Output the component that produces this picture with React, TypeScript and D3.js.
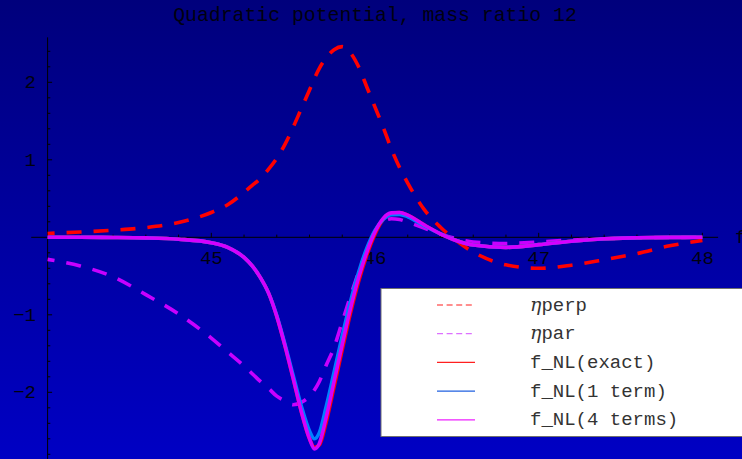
import React from "react";
import { scaleLinear, line, curveMonotoneX, range } from "d3";

// sample positions along the horizontal axis
const xs = [
  44.0, 44.2, 44.4, 44.6, 44.8, 45.0, 45.1, 45.2, 45.25, 45.3, 45.35, 45.4, 45.45, 45.5,
  45.55, 45.6, 45.63, 45.66, 45.7, 45.75, 45.8, 45.85, 45.9, 45.95, 46.0, 46.05, 46.1,
  46.15, 46.2, 46.3, 46.4, 46.5, 46.6, 46.8, 47.0, 47.2, 47.4, 47.6, 47.8, 48.0,
];

const etaPerp = [
  0.05, 0.068, 0.092, 0.125, 0.19, 0.32, 0.42, 0.58, 0.67, 0.76, 0.88, 1.02, 1.2, 1.42,
  1.66, 1.9, 2.05, 2.18, 2.31, 2.42, 2.46, 2.38, 2.2, 1.94, 1.68, 1.42, 1.14,
  0.9, 0.7, 0.36, 0.13, -0.05, -0.19, -0.355, -0.4, -0.36, -0.29, -0.21, -0.11, -0.04,
];

const etaPar = [
  -0.285, -0.37, -0.51, -0.74, -0.99, -1.3, -1.48, -1.66, -1.76, -1.86, -1.95, -2.05, -2.11, -2.16,
  -2.13, -2.05, -1.97, -1.86, -1.66, -1.42, -1.09, -0.76, -0.45, -0.17, 0.08, 0.2, 0.24,
  0.23, 0.195, 0.12, 0.04, -0.02, -0.06, -0.08, -0.06, -0.035, -0.02, -0.008, -0.002, 0,
];

const fExact = [
  0, 0, -0.002, -0.008, -0.025, -0.07, -0.13, -0.26, -0.37, -0.52, -0.72, -1.02, -1.4, -1.82,
  -2.25, -2.6, -2.71, -2.68, -2.4, -1.93, -1.45, -0.98, -0.57, -0.23, 0.04, 0.23, 0.31,
  0.32, 0.285, 0.16, 0.045, -0.045, -0.1, -0.13, -0.095, -0.05, -0.018, -0.006, -0.001, 0,
];

const fOneTerm = [
  0, 0, -0.002, -0.008, -0.025, -0.07, -0.13, -0.26, -0.37, -0.52, -0.72, -1.01, -1.38, -1.78,
  -2.18, -2.5, -2.6, -2.52, -2.2, -1.74, -1.27, -0.83, -0.45, -0.14, 0.09, 0.23, 0.29,
  0.295, 0.265, 0.15, 0.045, -0.045, -0.1, -0.13, -0.095, -0.05, -0.018, -0.006, -0.001, 0,
];

const fFourTerms = [
  0, 0, -0.002, -0.008, -0.025, -0.07, -0.13, -0.26, -0.37, -0.52, -0.72, -1.02, -1.4, -1.82,
  -2.25, -2.6, -2.73, -2.66, -2.34, -1.86, -1.38, -0.92, -0.52, -0.19, 0.07, 0.245, 0.315,
  0.32, 0.285, 0.16, 0.045, -0.045, -0.1, -0.13, -0.095, -0.05, -0.018, -0.006, -0.001, 0,
];

const xTickLabels = [45, 46, 47, 48];
const yTickLabels = [-2, -1, 1, 2];
const legendLabels = ["perp", "par", "f_NL(exact)", "f_NL(1 term)", "f_NL(4 terms)"];

const width = 742;
const height = 459;
const mono = "'Liberation Mono', 'DejaVu Sans Mono', monospace";

const series = [
  { values: etaPerp, color: "#ff0000", dash: "15,12", legendColor: "#ff6a6a", eta: true },
  { values: etaPar, color: "#c800ff", dash: "15,12", legendColor: "#dd70ff", eta: true },
  { values: fExact, color: "#ff0000", dash: null, legendColor: "#ff2020", eta: false },
  { values: fOneTerm, color: "#0080ff", dash: null, legendColor: "#2060e0", eta: false },
  { values: fFourTerms, color: "#d400ff", dash: null, legendColor: "#ee20ff", eta: false },
];

export default function App() {
  const x = scaleLinear().domain([44, 48]).range([47.6, 702.4]);
  const y = scaleLinear().domain([-2, 2]).range([392.3, 82.3]);

  const path = line<number>()
    .x((_, i) => x(xs[i]))
    .y((d) => y(d))
    .curve(curveMonotoneX);

  const xMinor = range(44.2, 48.01, 0.2);
  const yMinor = range(-2.8, 2.5, 0.2);
  const y0 = y(0);
  const x0 = x(44);

  const legendX = 381;
  const legendY = 288.5;
  const rowY = (i: number) => 305 + i * 28.7;

  return (
    <svg
      width={width}
      height={height}
      style={{ position: "absolute", left: 0, top: 0, display: "block" }}
    >
      <defs>
        <linearGradient id="bg" x1="0" y1="0" x2="0" y2="1">
          <stop offset="0" stopColor="#00007c" />
          <stop offset="1" stopColor="#0000c4" />
        </linearGradient>
      </defs>
      <rect width={width} height={height} fill="url(#bg)" />

      <text
        x={375}
        y={21}
        textAnchor="middle"
        fontFamily={mono}
        fontSize={19.8}
        fill="#000010"
      >
        Quadratic potential, mass ratio 12
      </text>

      {/* axes */}
      <g stroke="#000" strokeWidth={1}>
        <line x1={x(43.9)} x2={x(48.096)} y1={y0} y2={y0} />
        <line x1={x0} x2={x0} y1={y(2.58)} y2={height} />
        {xMinor.map((v) => {
          const major = Math.abs(v - Math.round(v)) < 1e-6;
          return (
            <line key={"xt" + v} x1={x(v)} x2={x(v)} y1={y0} y2={y0 - (major ? 4.5 : 2.7)} />
          );
        })}
        {yMinor.map((v) => {
          const major = Math.abs(v - Math.round(v)) < 1e-6;
          return (
            <line key={"yt" + v} x1={x0} x2={x0 + (major ? 4.5 : 2.7)} y1={y(v)} y2={y(v)} />
          );
        })}
      </g>
      <g fontFamily={mono} fontSize={19} fill="#000010">
        {xTickLabels.map((v) => (
          <text key={"xl" + v} x={x(v)} y={y0 + 27} textAnchor="middle">
            {v}
          </text>
        ))}
        {yTickLabels.map((v) => (
          <text key={"yl" + v} x={36} y={y(v) + 5.8} textAnchor="end">
            {v < 0 ? "\u2212" + Math.abs(v) : String(v)}
          </text>
        ))}
        <text x={735} y={y0 + 6}>f</text>
      </g>

      {/* curves */}
      {series.map((s, i) => (
        <path
          key={"s" + i}
          d={path(s.values) ?? ""}
          fill="none"
          stroke={s.color}
          strokeWidth={3.6}
          strokeDasharray={s.dash ?? undefined}
          strokeDashoffset={s.dash ? 8 : undefined}
        />
      ))}

      {/* legend */}
      <rect
        x={legendX}
        y={legendY}
        width={width - legendX + 5}
        height={148}
        fill="#ffffff"
        stroke="#707070"
        strokeWidth={1}
      />
      {series.map((s, i) => (
        <g key={"lg" + i}>
          <line
            x1={437}
            x2={475}
            y1={rowY(i)}
            y2={rowY(i)}
            stroke={s.legendColor}
            strokeWidth={1.3}
            strokeDasharray={s.dash ? "6,3.6" : undefined}
          />
          <text x={530} y={rowY(i) + 5.6} fontFamily={mono} fontSize={19} fill="#333333">
            {s.eta && (
              <tspan fontFamily="'DejaVu Serif', serif" fontStyle="italic">
                {"\u03b7"}
              </tspan>
            )}
            {legendLabels[i]}
          </text>
        </g>
      ))}
    </svg>
  );
}
